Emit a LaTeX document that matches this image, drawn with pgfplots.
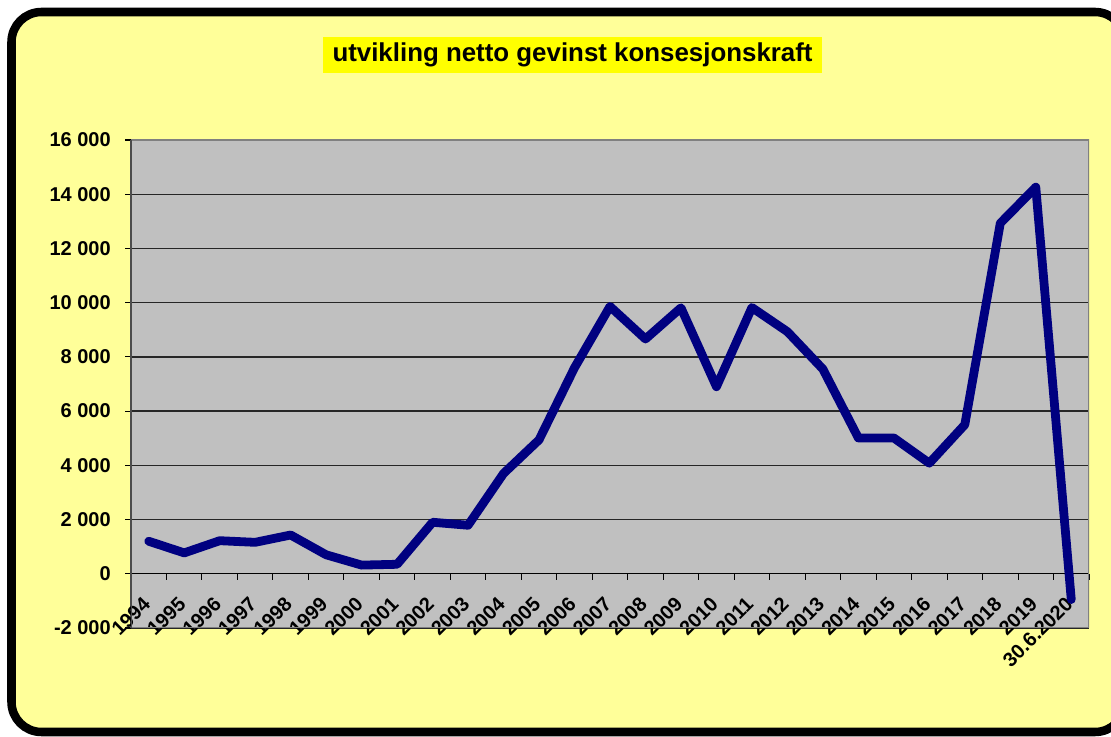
\documentclass[border=0pt]{standalone}
\usepackage{fontspec}
\setmainfont{Liberation Sans}
\usepackage{pgfplots}
\pgfplotsset{compat=1.18}
\definecolor{chartyellow}{HTML}{FFFF99}
\definecolor{plotgray}{HTML}{C0C0C0}
\definecolor{framegray}{HTML}{808080}
\definecolor{navyline}{HTML}{000080}
\definecolor{titleyellow}{HTML}{FFFF00}
\begin{document}
\begin{tikzpicture}
\useasboundingbox (0,0) rectangle (833.25pt,552pt);
\clip (0,0) rectangle (833.25pt,552pt);
\fill[white] (0,0) rectangle (833.25pt,552pt);
\draw[line width=6.4pt, fill=chartyellow, rounded corners=22.5pt] (8.625pt,3pt) rectangle (843.75pt,543pt);
\node[fill=titleyellow, minimum width=374pt, minimum height=27pt, inner sep=0pt,
      font=\fontsize{19.4}{23}\selectfont\bfseries] at (429.4pt,510.75pt) {utvikling netto gevinst konsesjonskraft};
\begin{axis}[
  at={(98.25pt,81pt)}, anchor=south west,
  scale only axis, width=718.5pt, height=366pt,
  xmin=-0.5, xmax=26.5, ymin=-2000, ymax=16000,
  axis x line*=middle, axis y line*=left,
  hide obscured x ticks=false, hide obscured y ticks=false,
  scaled y ticks=false, scaled x ticks=false,
  axis background/.style={fill=plotgray},
  /pgf/number format/assume math mode=true,
  xtick={0,...,26},
  xticklabels={1994,1995,1996,1997,1998,1999,2000,2001,2002,2003,2004,2005,2006,2007,2008,2009,2010,2011,2012,2013,2014,2015,2016,2017,2018,2019,30.6.2020},
  minor xtick={-0.5,0.5,...,26.5},
  ytick={-2000,0,2000,4000,6000,8000,10000,12000,14000,16000},
  yticklabels={-2 000,0,2 000,4 000,6 000,8 000,10 000,12 000,14 000,16 000},
  tick align=outside,
  major tick length=4.5pt, minor tick length=4.5pt,
  major x tick style={draw=none},
  tick style={black, line width=0.8pt},
  ymajorgrids, major grid style={black!85, line width=1pt},
  x axis line style={black, line width=1pt},
  y axis line style={black!70, line width=1.6pt},
  ticklabel style={font=\fontsize{15}{18}\selectfont\bfseries, inner sep=0pt},
  xticklabel style={xshift=-1.5pt, yshift=-15.5pt, rotate=45, anchor=east},
  yticklabel style={anchor=east, xshift=-10.5pt},
  clip=true,
]
\addplot[navyline, line width=6.6pt, line join=round, line cap=round] coordinates {
(0,1200) (1,770) (2,1220) (3,1160) (4,1430) (5,700) (6,320) (7,350) (8,1900) (9,1790)
(10,3700) (11,4940) (12,7600) (13,9860) (14,8660) (15,9810) (16,6900) (17,9820) (18,8930) (19,7550)
(20,5010) (21,5010) (22,4080) (23,5500) (24,12930) (25,14260) (26,-950)
};
\draw[framegray, line width=1.6pt] (rel axis cs:0,0) rectangle (rel axis cs:1,1);
\draw[black!70, line width=1.6pt] (rel axis cs:0,0) -- (rel axis cs:0,1);
\end{axis}
\end{tikzpicture}
\end{document}
